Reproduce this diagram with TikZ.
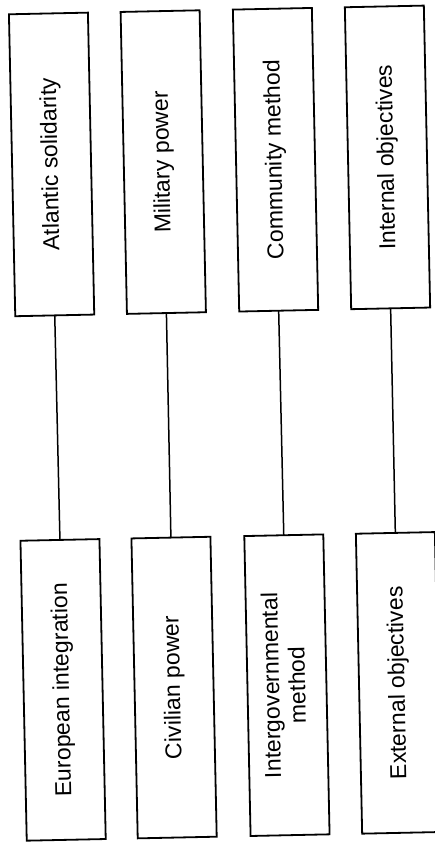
\documentclass[tikz,border=0pt]{standalone}
\usepackage{fontspec}
\usepackage{graphicx}
\setmainfont{Liberation Sans}
\begin{document}
\begin{tikzpicture}[x=1pt,y=-1pt,
  box/.style={draw, line width=1.8pt, inner sep=0pt, outer sep=0pt,
    minimum width=79pt, minimum height=#1,
    font=\fontsize{23}{26}\selectfont, align=center},
  link/.style={line width=1.5pt}]
\useasboundingbox (0,0) rectangle (435,843);
\begin{scope}[rotate around={1.2:(217.5,421.5)}, transform shape]
\node[box=302pt] (a1) at (57,161) {\rotatebox{90}{Atlantic solidarity}};
\node[box=302pt] (b1) at (168.7,161) {\rotatebox{90}{Military power}};
\node[box=302pt] (c1) at (281,161) {\rotatebox{90}{Community method}};
\node[box=302pt] (d1) at (393,161) {\rotatebox{90}{Internal objectives}};
\node[box=300pt] (a2) at (57.5,686.6) {\rotatebox{90}{European integration}};
\node[box=300pt] (b2) at (168.5,686.6) {\rotatebox{90}{Civilian power}};
\node[box=300pt] (c2) at (281.4,686.6) {\rotatebox{90}{\begin{tabular}{@{}c@{}}Intergovernmental\\method\end{tabular}}};
\node[box=300pt] (d2) at (393,686.6) {\rotatebox{90}{External objectives}};
\draw[link] (a1.south) -- (a2.north);
\draw[link] (b1.south) -- (b2.north);
\draw[link] (c1.south) -- (c2.north);
\draw[link] (d1.south) -- (d2.north);
\end{scope}
\end{tikzpicture}
\end{document}
